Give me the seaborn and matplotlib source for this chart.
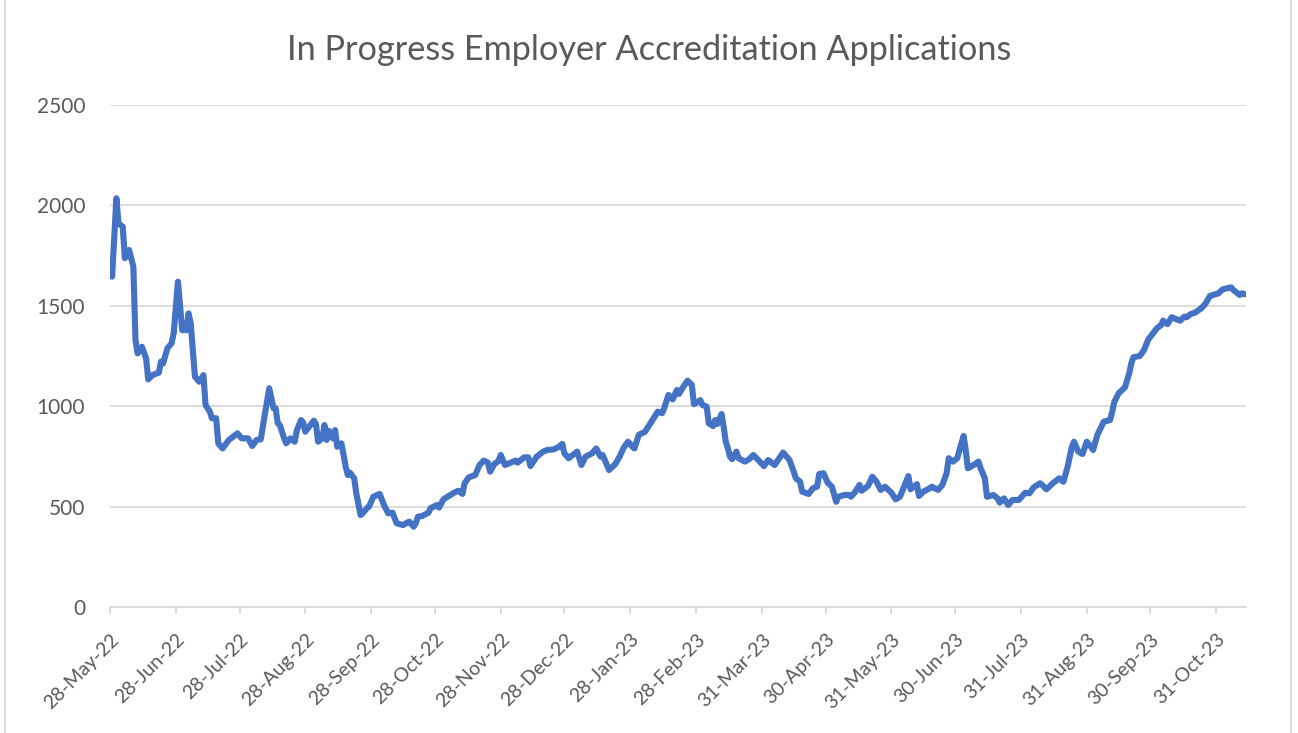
import matplotlib
matplotlib.use("Agg")
import matplotlib.pyplot as plt
from matplotlib.patches import Rectangle
import numpy as np
import pandas as pd
import seaborn as sns

# ---- data ----
start_date = "2022-05-28"
day_offset = [0, 1, 3, 4, 6, 7, 9, 11, 12, 13, 15, 17, 18, 20, 23, 24, 25, 27, 29, 30,
              32, 34, 36, 37, 38, 40, 42, 44, 45, 47, 48, 50, 51, 53, 56, 57, 60, 62, 65, 67,
              69, 71, 73, 75, 77, 78, 79, 80, 82, 83, 85, 87, 88, 90, 91, 92, 94, 96, 97, 98,
              100, 101, 102, 103, 105, 106, 107, 109, 111, 112, 113, 115, 116, 118, 119, 121, 122, 124, 127, 129,
              131, 133, 135, 138, 140, 141, 143, 144, 145, 147, 150, 151, 154, 155, 157, 159, 162, 164, 166, 167,
              169, 172, 174, 176, 178, 179, 181, 183, 184, 186, 188, 191, 192, 195, 197, 198, 201, 204, 206, 209,
              211, 213, 214, 216, 220, 222, 224, 227, 229, 231, 232, 235, 238, 240, 242, 244, 246, 247, 249, 252,
              254, 256, 258, 260, 261, 263, 265, 267, 268, 270, 272, 274, 275, 278, 279, 281, 282, 284, 285, 286,
              288, 289, 290, 291, 292, 293, 295, 296, 299, 301, 303, 306, 308, 310, 313, 317, 320, 322, 323, 325,
              326, 329, 331, 333, 334, 336, 338, 340, 342, 343, 346, 348, 349, 351, 353, 354, 357, 359, 361, 363,
              365, 368, 370, 372, 373, 376, 377, 380, 381, 383, 386, 387, 390, 392, 394, 395, 397, 399, 402, 403,
              404, 406, 409, 410, 412, 413, 416, 418, 419, 421, 423, 425, 428, 431, 433, 435, 438, 439, 441, 444,
              447, 449, 451, 453, 454, 456, 458, 460, 462, 463, 465, 468, 471, 472, 473, 475, 478, 480, 481, 482,
              485, 487, 489, 491, 493, 495, 496, 498, 500, 502, 504, 506, 507, 509, 511, 514, 516, 518, 522, 524,
              528, 529, 532, 533, 535]
applications = [1678, 1645, 2035, 1911, 1894, 1737, 1778, 1695, 1330, 1263, 1296, 1238, 1134, 1155, 1167, 1222, 1213, 1288, 1313, 1363,
                1620, 1379, 1379, 1462, 1413, 1147, 1122, 1155, 1006, 973, 940, 940, 815, 790, 832, 840, 865, 840, 840, 802,
                832, 835, 965, 1089, 990, 990, 915, 906, 840, 815, 840, 823, 881, 931, 918, 873, 901, 928, 911, 823,
                840, 906, 832, 878, 840, 881, 798, 815, 699, 657, 669, 641, 566, 458, 467, 492, 500, 549, 563, 508,
                467, 470, 417, 408, 420, 425, 400, 417, 450, 453, 470, 492, 508, 495, 536, 549, 569, 579, 563, 616,
                646, 657, 707, 729, 719, 674, 712, 727, 757, 707, 716, 729, 719, 745, 745, 702, 749, 774, 782, 785,
                795, 812, 765, 741, 774, 707, 749, 765, 790, 749, 757, 682, 712, 749, 795, 823, 798, 790, 857, 873,
                906, 940, 973, 965, 990, 1056, 1034, 1081, 1061, 1097, 1127, 1106, 1010, 1030, 1006, 998, 915, 901, 931, 911,
                961, 898, 823, 790, 749, 736, 774, 741, 724, 736, 757, 724, 702, 732, 707, 769, 732, 674, 641, 624,
                574, 563, 591, 599, 662, 666, 619, 599, 524, 549, 558, 558, 549, 574, 608, 579, 603, 649, 624, 583,
                599, 569, 536, 549, 574, 652, 586, 612, 553, 574, 591, 599, 583, 608, 666, 741, 724, 741, 852, 782,
                691, 702, 724, 691, 641, 549, 558, 541, 520, 541, 508, 533, 533, 569, 566, 596, 616, 608, 586, 616,
                641, 624, 699, 798, 823, 774, 762, 823, 798, 782, 857, 923, 931, 973, 1022, 1064, 1094, 1164, 1214, 1244,
                1250, 1280, 1333, 1360, 1388, 1404, 1426, 1409, 1443, 1434, 1426, 1446, 1443, 1459, 1466, 1488, 1512, 1549, 1562, 1582,
                1592, 1579, 1554, 1562, 1557]
tick_labels = ["28-May-22", "28-Jun-22", "28-Jul-22", "28-Aug-22", "28-Sep-22", "28-Oct-22",
               "28-Nov-22", "28-Dec-22", "28-Jan-23", "28-Feb-23", "31-Mar-23", "30-Apr-23",
               "31-May-23", "30-Jun-23", "31-Jul-23", "31-Aug-23", "30-Sep-23", "31-Oct-23"]
y_ticks = [0, 500, 1000, 1500, 2000, 2500]
title = "In Progress Employer Accreditation Applications"

dates = pd.Timestamp(start_date) + pd.to_timedelta(day_offset, unit="D")
df = pd.DataFrame({"date": dates, "value": applications})
tick_dates = pd.to_datetime(tick_labels, format="%d-%b-%y")

sns.set_theme(style="white")
plt.rcParams["font.family"] = ["Lato", "DejaVu Sans"]

W, H = 1298, 733
fig = plt.figure(figsize=(W / 100, H / 100), dpi=100)
ax = fig.add_axes([110 / W, 1 - 607 / H, (1246 - 110) / W, (607 - 105) / H])

grid_c = "#D9D9D9"
text_c = "#595959"

sns.lineplot(data=df, x="date", y="value", ax=ax, color="#4472C4", linewidth=4.4, zorder=3)

ax.set_ylim(0, 2500)
ax.set_xlim(df["date"].iloc[0], df["date"].iloc[-1])
ax.set_yticks(y_ticks)
ax.set_yticklabels([str(v) for v in y_ticks])
ax.set_xticks(tick_dates)
ax.set_xticklabels(tick_labels, rotation=45, ha="right", va="top", rotation_mode="anchor")

ax.grid(axis="y", color=grid_c, linewidth=1.3, zorder=0)
ax.grid(axis="x", visible=False)
for s in ["top", "right", "left"]:
    ax.spines[s].set_visible(False)
ax.spines["bottom"].set_color(grid_c)
ax.spines["bottom"].set_linewidth(1.3)
ax.spines["bottom"].set_zorder(1)

ax.tick_params(axis="y", length=0, pad=18, labelsize=15, labelcolor=text_c)
ax.tick_params(axis="x", length=5, width=1.3, color=grid_c, direction="out", pad=12,
               labelsize=14, labelcolor=text_c, bottom=True)
ax.set_xlabel("")
ax.set_ylabel("")

fig.text(0.5, 1 - 50 / H, title, ha="center", va="center", fontsize=24.7, color=text_c)

# chart area border
fig.patches.append(Rectangle((4.5 / W, -0.01), (1291 - 4.5) / W, 1.02, transform=fig.transFigure,
                             fill=False, edgecolor=grid_c, linewidth=1.3))

fig.savefig("out.png", dpi=100, facecolor="white")
